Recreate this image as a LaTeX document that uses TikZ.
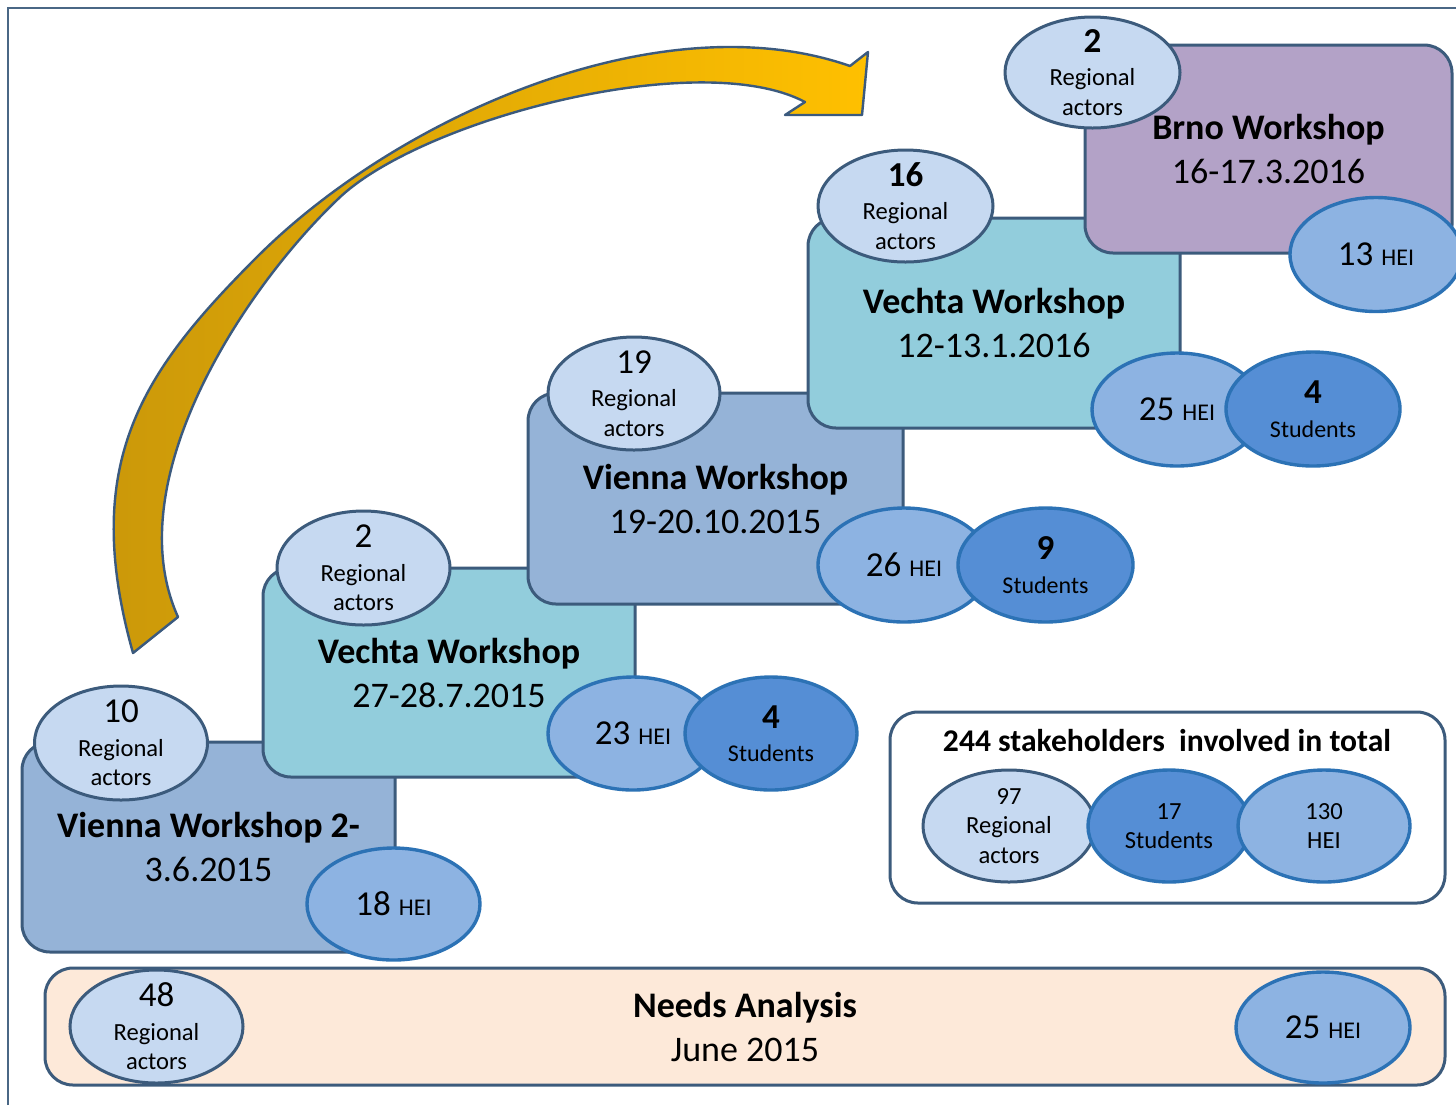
\documentclass[tikz,border=0pt]{standalone}
\usepackage{fontspec}
\setmainfont{Carlito}
\usetikzlibrary{shapes.geometric}
\definecolor{oline}{HTML}{3C5B7C}
\definecolor{framec}{HTML}{4A6785}
\definecolor{ralight}{HTML}{C6D9F1}
\definecolor{heifill}{HTML}{8DB3E2}
\definecolor{heiline}{HTML}{2C72B5}
\definecolor{stufill}{HTML}{558ED5}
\definecolor{vienc}{HTML}{95B3D7}
\definecolor{vechc}{HTML}{92CDDC}
\definecolor{brnoc}{HTML}{B3A2C7}
\definecolor{needc}{HTML}{FDE9D9}
\definecolor{goldA}{HTML}{C9970A}
\definecolor{goldB}{HTML}{FFC000}
\definecolor{arrline}{HTML}{3B5A7E}
\newcommand\fNum{\fontsize{17.5}{21}\selectfont}
\newcommand\fSml{\fontsize{12.3}{14.75}\selectfont}
\newcommand\fHei{\fontsize{12}{14}\selectfont}
\newcommand\fBox{\fontsize{18}{22}\selectfont}
\newcommand\fTot{\fontsize{15.8}{18}\selectfont}
\begin{document}
\begin{tikzpicture}[x=0.5pt,y=-0.5pt,
  wsbox/.style={draw=oline, line width=1.5pt, rounded corners=14pt, inner sep=0pt, align=center, font=\fBox},
  ra/.style={ellipse, draw=oline, fill=ralight, line width=1.5pt, inner sep=0pt},
  hei/.style={ellipse, draw=heiline, fill=heifill, line width=1.7pt, inner sep=0pt},
  stu/.style={ellipse, draw=heiline, fill=stufill, line width=1.7pt, inner sep=0pt},
  lab/.style={align=center, font=\fSml, inner sep=0pt},
  esz/.style 2 args={minimum width=#1pt, minimum height=#2pt}
]
\useasboundingbox (0,0) rectangle (1456,1105);
\fill[white] (0,0) rectangle (1456,1105);
% frame
\coordinate (fa) at (8,1105);
\coordinate (fb) at (8,8);
\coordinate (fc) at (1456,8);
\draw[framec, line width=1pt] (fa) -- (fb) -- (fc);

% curved arrow
\path[draw=arrline, line width=1.2pt, line join=round, left color=goldA, right color=goldB]
  (133,653) .. controls (79,461) and (144,370) .. (257,257)
  .. controls (398,116) and (661,0) .. (850,66)
  -- (868,52) -- (862,115) -- (785,115) -- (805,102)
  .. controls (699,46) and (418,120) .. (337,200)
  .. controls (245,288) and (116.5,480.5) .. (178,617)
  -- cycle;

% workshop boxes (later ones on top)
\node[wsbox, fill=vienc, minimum width=186.5pt, minimum height=105pt] (v1) at (208.5,847) {{\bfseries Vienna Workshop 2-}\\3.6.2015};
\node[wsbox, fill=vechc, minimum width=186pt, minimum height=104.5pt] (c1) at (449,672.5) {{\bfseries Vechta Workshop}\\27-28.7.2015};
\node[wsbox, fill=vienc, minimum width=187.5pt, minimum height=105.5pt] (v2) at (715.5,498.5) {{\bfseries Vienna Workshop}\\19-20.10.2015};
\node[wsbox, fill=vechc, minimum width=186pt, minimum height=105pt] (c2) at (994,323) {{\bfseries Vechta Workshop}\\12-13.1.2016};
\node[wsbox, fill=brnoc, minimum width=183.5pt, minimum height=104pt] (br) at (1268.5,149) {{\bfseries Brno Workshop}\\16-17.3.2016};

% Vienna 1
\node[ra, esz={86.5}{57}, label={[lab]center:{{\fNum 10}\\[2pt]Regional\\actors}}] (e10) at (121,743) {};
\node[hei, esz={86.5}{56}, label={[lab]center:{{\fNum 18}\hspace{4pt}{\fHei HEI}}}] (h18) at (393.5,904) {};
% Vechta 1
\node[ra, esz={86.5}{57}, label={[lab]center:{{\fNum 2}\\[2pt]Regional\\actors}}] (e2a) at (363.5,568) {};
\node[hei, esz={85}{56.5}, label={[lab]center:{{\fNum 23}\hspace{4pt}{\fHei HEI}}}] (h23) at (633,733.5) {};
\node[stu, esz={86}{56.5}, label={[lab]center:{{\fNum\bfseries 4}\\[2pt]{\fHei Students}}}] (s4a) at (771,733.5) {};
% Vienna 2
\node[ra, esz={86}{56.5}, label={[lab]center:{{\fNum 19}\\[2pt]Regional\\actors}}] (e19) at (634,393.5) {};
\node[hei, esz={86}{57}, label={[lab]center:{{\fNum 26}\hspace{4pt}{\fHei HEI}}}] (h26) at (904,565) {};
\node[stu, esz={87.5}{57}, label={[lab]center:{{\fNum\bfseries 9}\\[2pt]{\fHei Students}}}] (s9) at (1045.5,565) {};
% Vechta 2
\node[ra, esz={87.5}{56}, label={[lab]center:{{\fNum\bfseries 16}\\[2pt]Regional\\actors}}] (e16) at (905.5,206) {};
\node[hei, esz={85}{56.5}, label={[lab]center:{{\fNum 25}\hspace{4pt}{\fHei HEI}}}] (h25) at (1177,409.5) {};
\node[stu, esz={87}{57}, label={[lab]center:{{\fNum\bfseries 4}\\[2pt]{\fHei Students}}}] (s4b) at (1313,409) {};
% Brno
\node[ra, esz={87.5}{55.5}, label={[lab]center:{{\fNum\bfseries 2}\\[2pt]Regional\\actors}}] (e2b) at (1092.5,72.5) {};
\node[hei, esz={86}{57}, label={[lab]center:{{\fNum 13}\hspace{4pt}{\fHei HEI}}}] (h13) at (1376,254.5) {};

% totals
\node[draw=oline, fill=white, line width=1.5pt, rounded corners=14pt, minimum width=277.5pt, minimum height=95.5pt, inner sep=0pt] (tot) at (1167.5,807.5) {};
\node[font=\fTot\bfseries, inner sep=0pt] (totT) at (1167,741) {244 stakeholders~ involved in total};
\node[ra, esz={86}{56}, label={[lab]center:{97\\Regional\\actors}}] (t97) at (1009,826) {};
\node[stu, esz={81}{56}, label={[lab]center:{17\\Students}}] (t17) at (1169,826) {};
\node[hei, esz={86}{56}, label={[lab]center:{130\\HEI}}] (t130) at (1324,826) {};

% needs analysis
\node[wsbox, fill=needc, minimum width=700pt, minimum height=58.5pt] (na) at (745,1026.5) {{\bfseries Needs Analysis}\\June 2015};
\node[ra, esz={86.5}{56.5}, label={[lab]center:{{\fNum 48}\\[2pt]Regional\\actors}}] (e48) at (156.5,1026.5) {};
\node[hei, esz={87}{55.5}, label={[lab]center:{{\fNum 25}\hspace{4pt}{\fHei HEI}}}] (h25n) at (1323,1027.5) {};
\end{tikzpicture}
\end{document}
